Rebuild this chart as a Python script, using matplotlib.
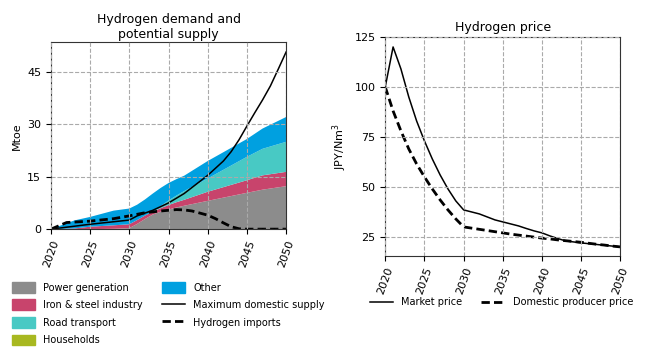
import numpy as np
import matplotlib
matplotlib.use("Agg")
import matplotlib.pyplot as plt
from matplotlib.patches import Patch
from matplotlib.lines import Line2D

# demand / supply (Mtoe)
years = [2020, 2023, 2025, 2028, 2030, 2031, 2032, 2033, 2034, 2035, 2036, 2037, 2040, 2045, 2047, 2050]
power = [0, 0, 0, 0.1, 0.3, 1.5, 2.9, 4.2, 5.0, 5.6, 6.2, 6.7, 8.1, 10.4, 11.3, 12.3]
steel = [0, 0.2, 0.7, 1.0, 1.1, 1.1, 1.0, 0.8, 1.0, 1.3, 1.5, 1.7, 2.6, 3.6, 4.1, 4.1]
road = [0, 0, 0, 0, 0, 0, 0, 0, 0.6, 1.3, 1.9, 2.5, 3.8, 6.7, 7.6, 8.6]
households = [0] * len(years)
other = [0, 2.3, 2.8, 4.2, 4.5, 4.4, 4.6, 5.2, 5.2, 5.0, 4.7, 4.4, 5.0, 5.1, 5.8, 7.1]

sup_years = [2020, 2025, 2030, 2031, 2033, 2035, 2037, 2040, 2042, 2043, 2044, 2045, 2046, 2047, 2048, 2049, 2050]
max_supply = [0, 1.4, 2.6, 3.8, 5.4, 7.5, 10.2, 15.4, 19.5, 22.2, 25.6, 29.5, 33.3, 37.0, 41.0, 45.8, 50.7]

imp_years = [2020, 2022, 2025, 2028, 2030, 2032, 2034, 2036, 2037, 2038, 2040, 2041, 2042, 2043, 2044, 2045, 2050]
imports = [0, 1.9, 2.3, 3.0, 3.8, 4.7, 5.2, 5.6, 5.5, 5.2, 4.0, 3.0, 1.8, 0.7, 0.1, 0, 0]

# prices (JPY/Nm3)
p_years = list(range(2020, 2051))
market = [100, 120, 109, 95, 83, 73, 64, 56, 49, 43, 38.5, 37.5, 36.5, 35, 33.5, 32.5,
          31.5, 30.5, 29.2, 28, 27, 25.5, 24.2, 23, 22.5, 22, 21.6, 21.2, 20.8, 20.4, 20]
producer = [100, 88, 78, 69, 61.5, 55, 49, 43.5, 38.5, 34, 30, 29.4, 28.8, 28.2, 27.6, 27,
            26.4, 25.9, 25.4, 24.9, 24.4, 24, 23.5, 23.1, 22.7, 22.3, 21.8, 21.3, 20.9, 20.4, 20]

colors = ["#8c8c8c", "#c8446c", "#48c9c4", "#a8b820", "#00a0e0"]
labels = ["Power generation", "Iron & steel industry", "Road transport", "Households", "Other"]
dash = (0, (3, 1.5))

fig = plt.figure(figsize=(6.7, 3.52), dpi=100)
ax1 = fig.add_axes([0.076, 0.349, 0.351, 0.531])
ax2 = fig.add_axes([0.575, 0.273, 0.351, 0.622])

ax1.stackplot(years, power, steel, road, households, other, colors=colors, linewidth=0)
ax1.plot(sup_years, max_supply, color="black", lw=1.1)
ax1.plot(imp_years, imports, color="black", lw=2, ls=dash)
ax1.set_xlim(2020, 2050)
ax1.set_ylim(0, 53.5)
ax1.set_yticks([0, 15, 30, 45])
ax1.set_xticks(range(2020, 2051, 5))
ax1.set_ylabel("Mtoe", fontsize=8)
ax1.set_title("Hydrogen demand and\npotential supply", fontsize=9, pad=3)

ax2.plot(p_years, market, color="black", lw=1.1)
ax2.plot(p_years, producer, color="black", lw=2, ls=dash)
ax2.set_xlim(2020, 2050)
ax2.set_ylim(15.5, 125)
ax2.set_yticks([25, 50, 75, 100, 125])
ax2.set_xticks(range(2020, 2051, 5))
ax2.set_ylabel("JPY/Nm$^3$", fontsize=8)
ax2.set_title("Hydrogen price", fontsize=9, pad=4)

for ax in (ax1, ax2):
    ax.grid(True, ls="--", color="#aaaaaa", lw=0.8)
    ax.set_axisbelow(False)
    ax.tick_params(labelsize=8)
    for lab in ax.get_xticklabels():
        lab.set_rotation(70)
    for s in ax.spines.values():
        s.set_color("#333333")

handles = [Patch(color=c) for c in colors[:4]] + [
    Patch(color=colors[4]),
    Line2D([], [], color="black", lw=1.1),
    Line2D([], [], color="black", lw=2, ls=dash),
]
leg_labels = labels[:4] + [labels[4], "Maximum domestic supply", "Hydrogen imports"]
fig.legend(handles, leg_labels, loc="upper left", bbox_to_anchor=(0.012, 0.21),
           ncol=2, frameon=False, fontsize=7, handlelength=2.4, handleheight=1.35,
           labelspacing=0.68, columnspacing=2.0, borderaxespad=0)

fig.legend([Line2D([], [], color="black", lw=1.1),
            Line2D([], [], color="black", lw=2, ls=dash)],
           ["Market price", "Domestic producer price"], loc="upper left",
           bbox_to_anchor=(0.546, 0.166), ncol=2, frameon=False, fontsize=7,
           handlelength=2.4, columnspacing=2.0, borderaxespad=0)

fig.savefig("out.png", dpi=100)
